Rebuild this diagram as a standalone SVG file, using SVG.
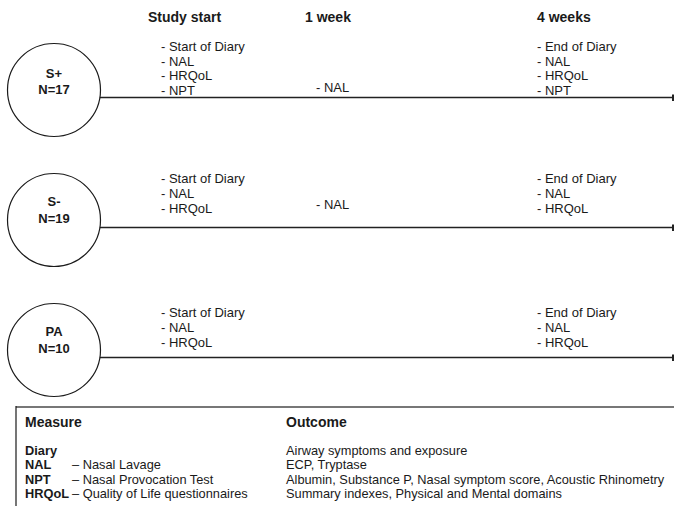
<svg xmlns="http://www.w3.org/2000/svg" width="674" height="506" viewBox="0 0 674 506">
<style>
.h{font-family:"Liberation Sans",Arial,sans-serif;font-weight:bold;font-size:14px;fill:#1a1a1a}
.t{font-family:"Liberation Sans",Arial,sans-serif;font-size:13px;fill:#1a1a1a}
.lt{font-family:"Liberation Sans",Arial,sans-serif;font-size:12.8px;fill:#1a1a1a}
.b{font-family:"Liberation Sans",Arial,sans-serif;font-weight:bold;font-size:12.8px;fill:#1a1a1a}
.c{fill:#fff;stroke:#1a1a1a;stroke-width:1.2}
.ln{stroke:#222;stroke-width:1.4;fill:none}
.tick{stroke:#222;stroke-width:2;fill:none}
.ct{font-family:"Liberation Sans",Arial,sans-serif;font-weight:bold;font-size:13px;fill:#1a1a1a;text-anchor:middle}
</style>
<rect width="674" height="506" fill="#fff"/>
<g id="headers">
<text class="h" x="148" y="22">Study start</text>
<text class="h" x="305" y="22">1 week</text>
<text class="h" x="537" y="22">4 weeks</text>
</g>
<g id="connectors">
<line class="ln" x1="99" y1="97.5" x2="673" y2="97.5"/>
<line class="tick" x1="673" y1="94.5" x2="673" y2="101"/>
<line class="ln" x1="99" y1="227.5" x2="673" y2="227.5"/>
<line class="tick" x1="673" y1="224.5" x2="673" y2="231"/>
<line class="ln" x1="99" y1="357.5" x2="673" y2="357.5"/>
<line class="tick" x1="673" y1="354.5" x2="673" y2="361"/>
</g>
<g id="node-splus">
<circle class="c" cx="54" cy="90" r="46.5"/>
<text class="ct" x="54" y="78">S+</text>
<text class="ct" x="54" y="94">N=17</text>
</g>
<g id="node-sminus">
<circle class="c" cx="54" cy="220" r="46.5"/>
<text class="ct" x="54" y="206">S-</text>
<text class="ct" x="54" y="223">N=19</text>
</g>
<g id="node-pa">
<circle class="c" cx="54" cy="350" r="46.5"/>
<text class="ct" x="54" y="336">PA</text>
<text class="ct" x="54" y="353">N=10</text>
</g>
<g id="row1-text">
<text class="t" x="161" y="51">- Start of Diary</text>
<text class="t" x="161" y="65.7">- NAL</text>
<text class="t" x="161" y="80.3">- HRQoL</text>
<text class="t" x="161" y="95">- NPT</text>
<text class="t" x="316" y="92">- NAL</text>
<text class="t" x="537" y="51">- End of Diary</text>
<text class="t" x="537" y="65.7">- NAL</text>
<text class="t" x="537" y="80.3">- HRQoL</text>
<text class="t" x="537" y="95">- NPT</text>
</g>
<g id="row2-text">
<text class="t" x="161" y="183">- Start of Diary</text>
<text class="t" x="161" y="198">- NAL</text>
<text class="t" x="161" y="213">- HRQoL</text>
<text class="t" x="316" y="209">- NAL</text>
<text class="t" x="537" y="183">- End of Diary</text>
<text class="t" x="537" y="198">- NAL</text>
<text class="t" x="537" y="213">- HRQoL</text>
</g>
<g id="row3-text">
<text class="t" x="161" y="317">- Start of Diary</text>
<text class="t" x="161" y="332">- NAL</text>
<text class="t" x="161" y="347">- HRQoL</text>
<text class="t" x="537" y="317">- End of Diary</text>
<text class="t" x="537" y="332">- NAL</text>
<text class="t" x="537" y="347">- HRQoL</text>
</g>
<g id="legend">
<line x1="16" y1="407" x2="674" y2="407" stroke="#777" stroke-width="2"/>
<line x1="16" y1="406" x2="16" y2="506" stroke="#1a1a1a" stroke-width="1.2"/>
<text class="h" x="25" y="427">Measure</text>
<text class="h" x="286" y="427">Outcome</text>
<text class="b" x="25" y="455">Diary</text>
<text class="b" x="25" y="469.4">NAL</text>
<text class="b" x="25" y="483.8">NPT</text>
<text class="b" x="25" y="498.2">HRQoL</text>
<text class="lt" x="72" y="469.4">– Nasal Lavage</text>
<text class="lt" x="72" y="483.8">– Nasal Provocation Test</text>
<text class="lt" x="72" y="498.2">– Quality of Life questionnaires</text>
<text class="lt" x="286" y="455">Airway symptoms and exposure</text>
<text class="lt" x="286" y="469.4">ECP, Tryptase</text>
<text class="lt" x="286" y="483.8">Albumin, Substance P, Nasal symptom score, Acoustic Rhinometry</text>
<text class="lt" x="286" y="498.2">Summary indexes, Physical and Mental domains</text>
</g>
</svg>
